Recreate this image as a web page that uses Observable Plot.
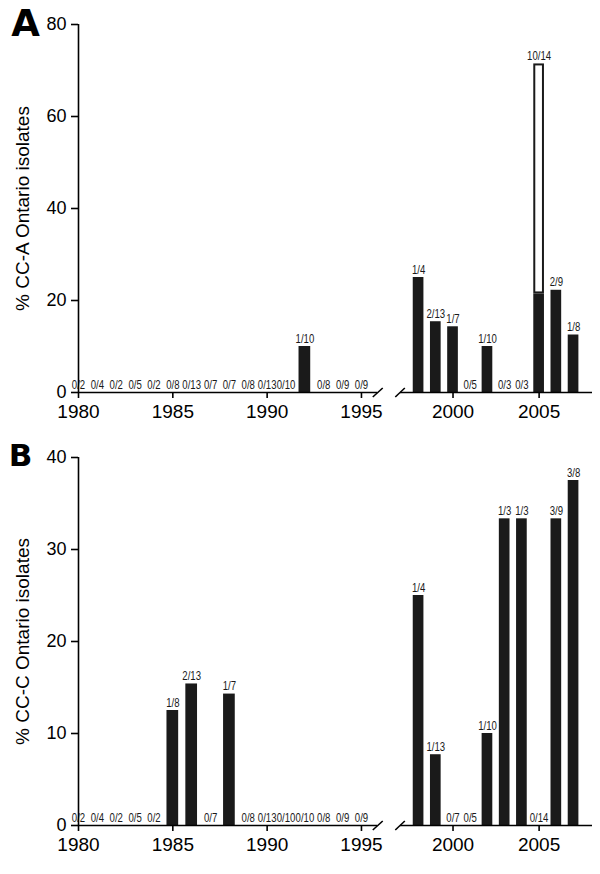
<!DOCTYPE html>
<html>
<head>
<meta charset="utf-8">
<script src="https://cdn.jsdelivr.net/npm/d3@7"></script>
<script src="https://cdn.jsdelivr.net/npm/@observablehq/plot@0.6"></script>
<style>
  body { margin: 0; background: #fff; }
  #chart { width: 600px; }
  #chart svg { display: block; overflow: visible; }
</style>
</head>
<body>
<div id="chart"></div>
<script>
// Years shown (axis is broken between 1995 and 1998)
const years = [1980, 1981, 1982, 1983, 1984, 1985, 1986, 1987, 1988, 1989, 1990, 1991, 1992, 1993, 1994, 1995,
               1998, 1999, 2000, 2001, 2002, 2003, 2004, 2005, 2006, 2007];
// Total isolates per year (denominators)
const totals = [2, 4, 2, 5, 2, 8, 13, 7, 7, 8, 13, 10, 10, 8, 9, 9,
                4, 13, 7, 5, 10, 3, 3, 14, 9, 8];
// Panel A: CC-A isolates (numerators); open = part of the count drawn as open bar
const ccaCount = [0, 0, 0, 0, 0, 0, 0, 0, 0, 0, 0, 0, 1, 0, 0, 0,
                  1, 2, 1, 0, 1, 0, 0, 10, 2, 1];
const ccaOpen  = [0, 0, 0, 0, 0, 0, 0, 0, 0, 0, 0, 0, 0, 0, 0, 0,
                  0, 0, 0, 0, 0, 0, 0, 7, 0, 0];
// Panel B: CC-C isolates (numerators)
const cccCount = [0, 0, 0, 0, 0, 1, 2, 0, 1, 0, 0, 0, 0, 0, 0, 0,
                  1, 1, 0, 0, 1, 1, 1, 0, 3, 3];
const cccOpen  = [0, 0, 0, 0, 0, 0, 0, 0, 0, 0, 0, 0, 0, 0, 0, 0,
                  0, 0, 0, 0, 0, 0, 0, 0, 0, 0];
const xTicks = [1980, 1985, 1990, 1995, 2000, 2005];
const yTicksA = [0, 20, 40, 60, 80];
const yTicksB = [0, 10, 20, 30, 40];

// scale / layout configuration
const breakAt = [1995.85, 1996.95];
const xDomain = [1980, breakAt[0], breakAt[1], 2008.1];
const xRange = [78, 377, 400, 592];
const half = 0.31;
const ink = "#1a1a1a";
const labelSize = 12;

function rows(count, open) {
  return years.map((year, i) => ({
    year,
    label: `${count[i]}/${totals[i]}`,
    total: count[i] / totals[i] * 100,
    solid: (count[i] - open[i]) / totals[i] * 100
  }));
}

function panel({data, yMax, yTicks, title, letter, letterSize, letterDx, letterDy, marginTop, marginBottom}) {
  const H = 437;
  const slashY = yMax * 4.5 / (H - marginTop - marginBottom);
  const openRows = data.filter(d => d.total > d.solid);
  const svg = Plot.plot({
    width: 600,
    height: H,
    marginLeft: 78,
    marginRight: 8,
    marginTop,
    marginBottom,
    style: {fontFamily: "'Liberation Sans', Arial, sans-serif", background: "white", color: "black"},
    x: {type: "linear", domain: xDomain, range: xRange},
    y: {domain: [0, yMax]},
    marks: [
      // bars
      Plot.rectY(data, {x1: d => d.year - half, x2: d => d.year + half, y1: 0, y2: "solid", fill: ink}),
      Plot.rectY(openRows, {x1: d => d.year - half, x2: d => d.year + half, y1: "solid", y2: "total",
                            fill: "white", stroke: ink, strokeWidth: 2, inset: 1}),
      // bar labels
      Plot.text(data, {x: "year", y: "total", text: "label", dy: -4, lineAnchor: "bottom",
                       fontSize: labelSize, fill: ink}),
      // axes lines
      Plot.ruleX([1980], {y1: 0, y2: yMax, stroke: "black", strokeWidth: 1.6}),
      Plot.ruleY([0, 0], {x1: [1980, breakAt[1]], x2: [breakAt[0], xDomain[3]], stroke: "black", strokeWidth: 1.6}),
      // axis break marks
      Plot.link(breakAt, {x1: d => d - 0.25, x2: d => d + 0.25, y1: -slashY, y2: slashY, stroke: "black", strokeWidth: 1.6}),
      Plot.axisX({ticks: xTicks, tickFormat: d => String(d), tickSize: 6, tickPadding: 6, fontSize: 19,
                  label: null, stroke: "black", strokeWidth: 1.6}),
      Plot.axisY({ticks: yTicks, tickSize: 7, tickPadding: 5, fontSize: 18, label: null,
                  stroke: "black", strokeWidth: 1.6}),
      // y axis title
      Plot.text([title], {frameAnchor: "left", rotate: -90, dx: -56, textAnchor: "middle", lineAnchor: "middle",
                          fontSize: 19, fill: "black"}),
      // panel letter
      Plot.text([letter], {frameAnchor: "top-left", dx: letterDx, dy: letterDy, textAnchor: "middle",
                           lineAnchor: "middle", fontSize: letterSize,
                           fontWeight: 900, fontFamily: "'DejaVu Sans', sans-serif", fill: "black"})
    ]
  });
  // condense the small count labels horizontally (narrow typeface look)
  svg.querySelectorAll(`g[font-size="${labelSize}"] text`).forEach(t => {
    const tr = t.getAttribute("transform") || "";
    t.setAttribute("transform", tr + " scale(0.8,1)");
  });
  return svg;
}

const chart = document.getElementById("chart");
chart.append(panel({
  data: rows(ccaCount, ccaOpen), yMax: 80, yTicks: yTicksA,
  title: "% CC-A Ontario isolates", letter: "A", letterSize: 37, letterDx: -53, letterDy: 0,
  marginTop: 24, marginBottom: 45
}));
chart.append(panel({
  data: rows(cccCount, cccOpen), yMax: 40, yTicks: yTicksB,
  title: "% CC-C Ontario isolates", letter: "B", letterSize: 31, letterDx: -58, letterDy: -1,
  marginTop: 20, marginBottom: 49
}));
</script>
</body>
</html>
